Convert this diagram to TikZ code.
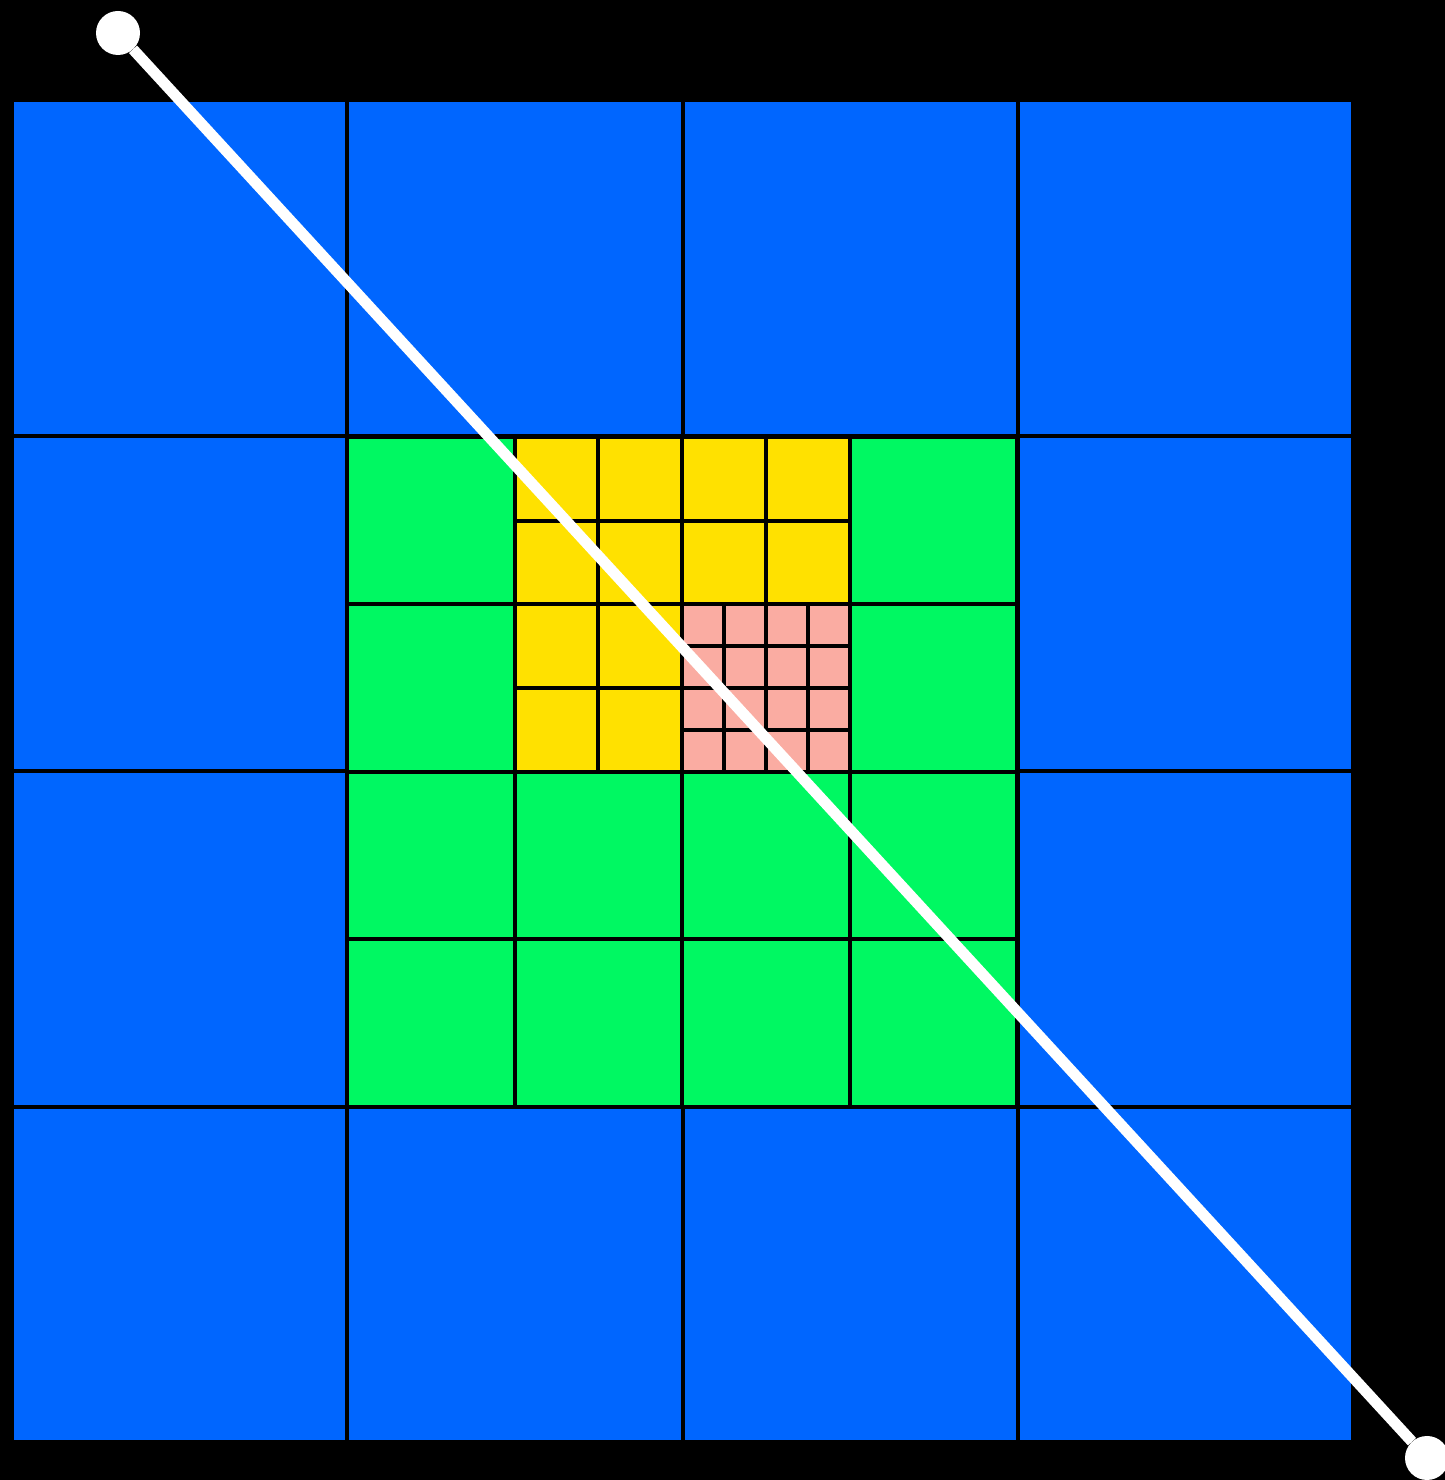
\documentclass[tikz,border=0pt]{standalone}
\usepackage{tikz}

\definecolor{cellblue}{HTML}{0066FF}
\definecolor{cellgreen}{HTML}{00F862}
\definecolor{cellyellow}{HTML}{FFE100}
\definecolor{cellpink}{HTML}{FAACA2}

\tikzset{
  gridline/.style={line width=4pt, color=black},
  endpoint/.style={circle, fill=white, inner sep=0pt, minimum size=44pt},
  ray/.style={line width=11pt, color=white}
}

\begin{document}
\begin{tikzpicture}[x=1pt,y=1pt]
% Background and size of the picture
\fill[black] (0,0) rectangle (1445,1480);
\useasboundingbox (0,0) rectangle (1445,1480);

\begin{scope}[shift={(12,38)}]
% Coarse level: 4x4 blue cells
\fill[cellblue] (0,0) rectangle (1341,1340);
\draw[gridline,step=335.25] (0,0) grid (1341,1340);

% Second level: green cells
\filldraw[gridline,fill=cellgreen] (335,335) rectangle (1005,1005);
\draw[gridline,step=167.5] (335,335) grid (1005,1005);

% Third level: yellow cells
\filldraw[gridline,fill=cellyellow] (502.5,670) rectangle (837.5,1005);
\draw[gridline,step=83.75] (502.5,670) grid (837.5,1005);

% Finest level: pink cells
\filldraw[gridline,fill=cellpink] (670,670) rectangle (837.5,837.5);
\draw[gridline,step=41.875] (670,670) grid (837.5,837.5);
\end{scope}

% Ray through the grid
\node[endpoint] (start) at (118,1447) {};
\node[endpoint] (stop) at (1427,22) {};
\draw[ray] (start) -- (stop);

\end{tikzpicture}
\end{document}
